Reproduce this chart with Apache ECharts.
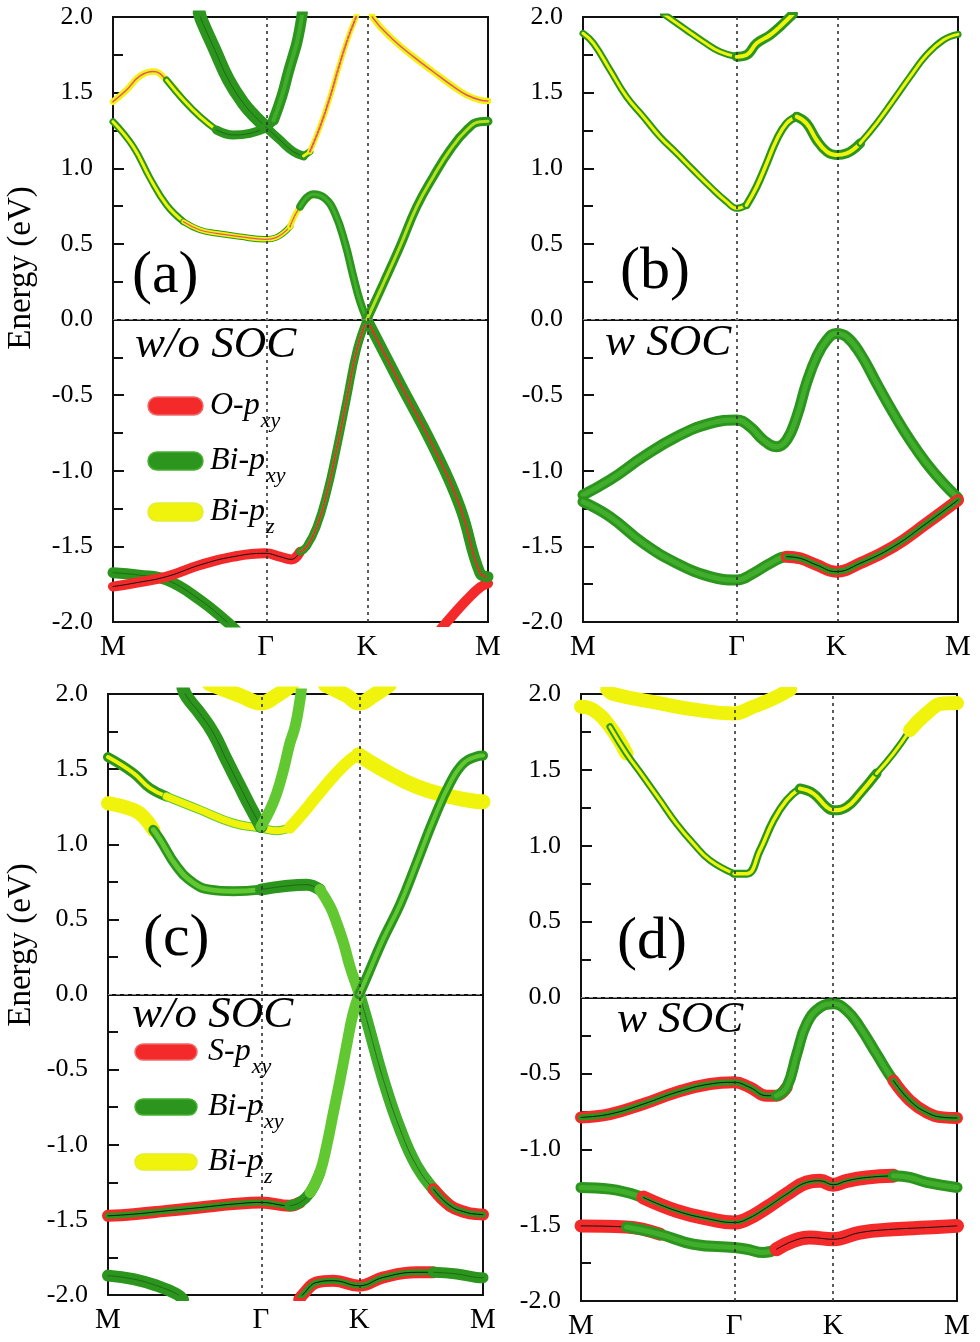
<!DOCTYPE html>
<html><head><meta charset="utf-8">
<script src="https://cdn.jsdelivr.net/npm/echarts@6.0.0/dist/echarts.min.js"></script>
<style>html,body{margin:0;padding:0;background:#fff}#c{width:980px;height:1342px}</style>
</head><body><div id="c"></div>
<script>
// ---------------- DATA ----------------
const kLabels = ['M', 'Γ', 'K', 'M'];
const kA = [0, 0.407, 0.677, 1];
const kB = [0, 0.410, 0.675, 1];
const kC = [0, 0.408, 0.670, 1];
const kD = [0, 0.407, 0.671, 1];
const yMin = -2.0, yMax = 2.0, yStep = 0.5;

// panel (a)  w/o SOC  (O-pxy / Bi-pxy / Bi-pz)
const a1 = [[0,1.308],[0.054,1.143],[0.099,0.933],[0.143,0.757],[0.188,0.647],[0.232,0.592],[0.276,0.570],[0.339,0.548],[0.407,0.530],[0.436,0.543],[0.472,0.614],[0.499,0.746],[0.534,0.828],[0.565,0.801],[0.592,0.702],[0.619,0.503],[0.641,0.283],[0.659,0.118],[0.677,0.0],[0.765,-0.422],[0.854,-0.841],[0.925,-1.237],[0.979,-1.678],[1,-1.70]];
const a2 = [[0,1.44],[0.036,1.517],[0.072,1.61],[0.108,1.639],[0.143,1.583],[0.188,1.451],[0.232,1.341],[0.276,1.253],[0.321,1.22],[0.365,1.231],[0.407,1.265],[0.428,1.318],[0.450,1.473],[0.468,1.639],[0.481,1.749],[0.490,1.826],[0.499,1.936],[0.505,2.03]];
const a3 = [[0.23,2.03],[0.236,1.98],[0.272,1.78],[0.308,1.584],[0.348,1.429],[0.379,1.341],[0.407,1.275],[0.445,1.187],[0.481,1.11],[0.508,1.081],[0.525,1.11],[0.552,1.274],[0.579,1.473],[0.605,1.693],[0.628,1.87],[0.645,1.98],[0.652,2.03]];
const a4 = [[0.69,2.03],[0.694,1.991],[0.748,1.848],[0.801,1.738],[0.854,1.638],[0.908,1.539],[0.943,1.484],[0.979,1.451],[1,1.445]];
const a6 = [[0,-1.766],[0.054,-1.744],[0.143,-1.70],[0.232,-1.623],[0.321,-1.568],[0.407,-1.546],[0.445,-1.568],[0.476,-1.586],[0.499,-1.535],[0.516,-1.503],[0.543,-1.370],[0.570,-1.149],[0.596,-0.863],[0.623,-0.532],[0.650,-0.202],[0.677,0.0],[0.721,0.238],[0.765,0.481],[0.810,0.746],[0.854,0.944],[0.899,1.121],[0.943,1.253],[0.979,1.308],[1,1.31]];
const a7 = [[0,-1.674],[0.070,-1.690],[0.143,-1.722],[0.232,-1.854],[0.303,-1.997],[0.33,-2.06]];
const a8 = [[0.87,-2.06],[0.890,-2.0],[0.943,-1.855],[0.979,-1.770],[1,-1.745]];

// panel (b)  w SOC
const b1 = [[0,1.892],[0.028,1.826],[0.072,1.650],[0.116,1.473],[0.161,1.341],[0.205,1.209],[0.250,1.099],[0.294,0.988],[0.339,0.878],[0.383,0.779],[0.410,0.735],[0.436,0.756],[0.463,0.878],[0.490,1.033],[0.516,1.187],[0.543,1.297],[0.570,1.341],[0.596,1.297],[0.623,1.187],[0.650,1.110],[0.675,1.088],[0.703,1.099],[0.739,1.165],[0.783,1.297],[0.828,1.451],[0.872,1.605],[0.916,1.749],[0.961,1.848],[1,1.885]];
const b2 = [[0.215,2.02],[0.276,1.914],[0.321,1.837],[0.365,1.771],[0.410,1.738],[0.436,1.749],[0.463,1.826],[0.499,1.881],[0.525,1.936],[0.552,2.0],[0.56,2.02]];
const b3 = [[0,-1.160],[0.072,-1.061],[0.161,-0.907],[0.250,-0.775],[0.339,-0.687],[0.410,-0.664],[0.445,-0.708],[0.481,-0.797],[0.516,-0.841],[0.543,-0.797],[0.570,-0.643],[0.596,-0.422],[0.623,-0.246],[0.650,-0.136],[0.675,-0.092],[0.703,-0.114],[0.739,-0.224],[0.783,-0.422],[0.828,-0.620],[0.872,-0.797],[0.916,-0.951],[0.961,-1.083],[1,-1.180]];
const b4 = [[0,-1.205],[0.072,-1.304],[0.161,-1.480],[0.250,-1.612],[0.339,-1.700],[0.410,-1.722],[0.454,-1.678],[0.499,-1.612],[0.543,-1.568],[0.579,-1.579],[0.623,-1.623],[0.675,-1.667],[0.739,-1.612],[0.828,-1.502],[0.916,-1.348],[1,-1.194]];

// panel (c)  w/o SOC  (S-pxy / Bi-pxy / Bi-pz)
const c1a = [[0.27,2.07],[0.352,1.99],[0.408,1.94],[0.45,1.99],[0.49,2.06]];
const c1b = [[0.58,2.06],[0.636,1.99],[0.670,1.94],[0.708,1.99],[0.75,2.06]];
const c2 = [[0,1.58],[0.068,1.473],[0.112,1.373],[0.156,1.318],[0.245,1.229],[0.334,1.141],[0.408,1.107],[0.450,1.09],[0.485,1.11],[0.512,1.185],[0.556,1.318],[0.601,1.451],[0.645,1.561],[0.668,1.595],[0.734,1.495],[0.823,1.384],[0.912,1.318],[0.983,1.285],[1,1.283]];
const c3 = [[0,1.273],[0.068,1.229],[0.094,1.185],[0.121,1.096],[0.139,1.030],[0.183,0.853],[0.228,0.742],[0.272,0.698],[0.334,0.687],[0.408,0.698],[0.468,0.72],[0.530,0.731],[0.565,0.698],[0.592,0.587],[0.610,0.476],[0.628,0.343],[0.645,0.188],[0.663,0.055],[0.670,0.0],[0.690,-0.17],[0.734,-0.565],[0.779,-0.897],[0.823,-1.141],[0.868,-1.296],[0.912,-1.406],[0.956,-1.451],[0.983,-1.462],[1,-1.465]];
const c4 = [[0,-1.473],[0.068,-1.462],[0.156,-1.44],[0.245,-1.418],[0.334,-1.395],[0.408,-1.384],[0.485,-1.406],[0.512,-1.384],[0.539,-1.318],[0.565,-1.185],[0.583,-1.008],[0.601,-0.786],[0.619,-0.565],[0.636,-0.343],[0.654,-0.122],[0.670,0.0],[0.690,0.115],[0.734,0.37],[0.779,0.60],[0.823,0.875],[0.868,1.163],[0.912,1.406],[0.948,1.539],[0.983,1.584],[1,1.59]];
const c5 = [[0.2,2.04],[0.210,1.982],[0.245,1.871],[0.281,1.739],[0.316,1.561],[0.352,1.384],[0.379,1.251],[0.408,1.118],[0.432,1.229],[0.450,1.34],[0.468,1.495],[0.485,1.672],[0.499,1.783],[0.512,1.96],[0.516,2.04]];
const c6 = [[0,-1.871],[0.068,-1.894],[0.130,-1.938],[0.183,-1.993],[0.2,-2.03]];
const c7 = [[0.51,-2.03],[0.521,-1.993],[0.557,-1.916],[0.601,-1.905],[0.670,-1.938],[0.734,-1.883],[0.823,-1.849],[0.868,-1.849],[0.93,-1.86],[0.983,-1.883],[1,-1.885]];

// panel (d)  w SOC
const d1 = [[0.07,2.03],[0.086,2.0],[0.210,1.938],[0.299,1.899],[0.407,1.872],[0.458,1.916],[0.512,1.971],[0.556,2.03]];
const d2 = [[0,1.916],[0.033,1.894],[0.077,1.784],[0.121,1.608],[0.166,1.454],[0.210,1.300],[0.254,1.146],[0.299,1.014],[0.343,0.904],[0.407,0.816],[0.441,0.816],[0.476,0.970],[0.512,1.168],[0.547,1.300],[0.582,1.377],[0.618,1.344],[0.653,1.256],[0.671,1.234],[0.707,1.256],[0.742,1.344],[0.786,1.476],[0.831,1.608],[0.875,1.762],[0.919,1.872],[0.964,1.938],[1,1.94]];
const d3 = [[0,-0.790],[0.077,-0.768],[0.166,-0.702],[0.254,-0.625],[0.343,-0.570],[0.407,-0.559],[0.449,-0.592],[0.494,-0.647],[0.520,-0.647],[0.547,-0.592],[0.574,-0.372],[0.600,-0.174],[0.636,-0.064],[0.671,-0.042],[0.707,-0.086],[0.742,-0.196],[0.786,-0.372],[0.831,-0.548],[0.875,-0.680],[0.919,-0.757],[0.964,-0.790],[1,-0.794]];
const d4 = [[0,-1.252],[0.077,-1.263],[0.166,-1.318],[0.254,-1.406],[0.343,-1.461],[0.407,-1.483],[0.441,-1.461],[0.494,-1.384],[0.547,-1.296],[0.600,-1.219],[0.636,-1.208],[0.671,-1.234],[0.707,-1.208],[0.760,-1.186],[0.831,-1.175],[0.875,-1.186],[0.919,-1.219],[1,-1.252]];
const d5 = [[0,-1.505],[0.121,-1.512],[0.210,-1.560],[0.299,-1.626],[0.407,-1.648],[0.441,-1.659],[0.485,-1.681],[0.520,-1.659],[0.565,-1.604],[0.609,-1.582],[0.671,-1.593],[0.742,-1.549],[0.831,-1.527],[0.919,-1.516],[1,-1.505]];

// legend / annotation texts
const legendA = [['O-p','xy','R'],['Bi-p','xy','G'],['Bi-p','z','Y']];
const legendC = [['S-p','xy','R'],['Bi-p','xy','G'],['Bi-p','z','Y']];

// ---------------- STYLE ----------------
const FONT = 'Liberation Serif';
const C = {G:'#2c951e', GD:'#1d6a13', LG:'#62c832', MG:'#40ad2b', Y:'#f0f30c', R:'#f42a2a', P:'#e8507a', K:'#111111'};
const P = {
  GY:   [[C.G,7],[C.Y,3]],
  GYc:  [[C.G,8],[C.Y,3.5]],
  GYt:  [[C.G,10],[C.Y,4]],
  YPg:  [[C.G,6.5],[C.Y,4.5],[C.P,1.2]],
  YP:   [[C.Y,6],[C.P,1.5,'dotted']],
  YPd:  [[C.Y,5.5],[C.P,2,'dotted']],
  YR:   [[C.Y,6.5],[C.P,1.5]],
  GT9:  [[C.G,9],[C.GD,1]],
  GT11: [[C.G,11],[C.GD,1]],
  GT13: [[C.G,13],[C.GD,1]],
  GC8:  [[C.G,8],[C.MG,3]],
  GC11: [[C.G,11],[C.MG,4]],
  GCr:  [[C.G,8],[C.MG,3],[C.R,2,'dotted']],
  GCy:  [[C.G,9],['#b6e21c',3]],
  GRd:  [[C.G,11],[C.R,2,'dotted']],
  RB:   [[C.R,10],[C.K,1]],
  RB13: [[C.R,13],[C.K,1]],
  RB14: [[C.R,14],[C.K,1]],
  R10:  [[C.R,10]],
  RGB:  [[C.R,12],[C.G,6],[C.K,1]],
  RGB2: [[C.R,14],[C.G,4],[C.K,1]],
  YT12: [[C.Y,12]],
  YT14: [[C.Y,14]],
  YT15: [[C.Y,15]],
  YG:   [[C.LG,9],[C.Y,7]],
  GLG:  [[C.G,10],[C.LG,5]],
  GT12: [[C.G,12],[C.GD,1]],
  LGC:  [[C.LG,11]],
  GLG12:[[C.MG,12],[C.GD,1,'dotted']],
  GCb:  [[C.G,11],[C.MG,5]],
  GCy2: [[C.G,10],[C.LG,4]]
};

const grids = [
  {left:113, top:17, width:375, height:605},
  {left:583, top:17, width:375, height:605},
  {left:108, top:694, width:375, height:601},
  {left:581, top:694, width:376, height:607}
];
const kPos = [kA, kB, kC, kD];

// bands: [gridIndex, data, segments [i0,i1,preset]]
const bands = [
  [0, a7, [[0,5,'GT11']]],
  [0, a8, [[0,4,'R10']]],
  [0, a4, [[0,8,'YR']]],
  [0, a2, [[0,5,'YR'],[4,7,'GY'],[7,10,'GT9'],[10,12,'GC8'],[11,17,'GC11']]],
  [0, a3, [[0,6,'GT13'],[6,9,'GT9'],[9,10,'GY'],[10,16,'YPd']]],
  [0, a1, [[0,4,'GY'],[4,10,'YPg'],[10,12,'YP'],[11,18,'GC8'],[18,23,'GRd']]],
  [0, a6, [[0,8,'RB'],[8,15,'GCr'],[15,23,'GCy']]],

  [1, b1, [[0,11,'GY'],[11,16,'GYc'],[16,22,'GYt'],[22,28,'GY']]],
  [1, b2, [[0,4,'GY'],[4,10,'GYt']]],
  [1, b3, [[0,22,'GCb']]],
  [1, b4, [[0,9,'GCb'],[8,15,'RGB']]],

  [2, c1a, [[0,4,'YT15']]],
  [2, c1b, [[0,4,'YT15']]],
  [2, c2, [[0,3,'GYt'],[3,8,'YG'],[8,13,'YT12'],[13,18,'YT15']]],
  [2, c6, [[0,4,'GT12']]],
  [2, c7, [[0,7,'RGB'],[7,10,'GT11']]],
  [2, c3, [[0,3,'YT14'],[3,9,'GLG'],[9,12,'GT12'],[12,18,'LGC'],[18,24,'GLG12'],[23,27,'RGB']]],
  [2, c4, [[0,7,'RGB'],[6,9,'GT11'],[8,15,'LGC'],[15,24,'GCy2']]],
  [2, c5, [[0,7,'GT13'],[7,14,'LGC']]],

  [3, d1, [[0,7,'YT14']]],
  [3, d2, [[0,3,'YT14'],[2,9,'GY'],[9,14,'GYc'],[14,20,'GYt'],[20,22,'GY'],[22,25,'YT14']]],
  [3, d3, [[0,9,'RGB'],[8,18,'GCb'],[17,21,'RGB']]],
  [3, d4, [[0,3,'GCb'],[2,14,'RGB2'],[14,17,'GCb']]],
  [3, d5, [[0,2,'RB13'],[1,7,'GCb'],[7,14,'RB14']]]
];

// ---------------- BUILD ----------------
const series = [];
bands.forEach(([g, pts, segs]) => {
  segs.forEach(([i0, i1, pre]) => {
    const d = pts.slice(i0, i1 + 1);
    P[pre].forEach(([color, width, type]) => {
      series.push({
        type:'line', xAxisIndex:g, yAxisIndex:g, data:d, smooth:0.45,
        symbol:'none', silent:true, animation:false, clip:true,
        lineStyle:{color:color, width:width, type:type||'solid', cap:'round', join:'round'}
      });
    });
  });
});
// reference lines at Γ, K and E=0
kPos.forEach((kp, g) => {
  series.push({
    type:'line', xAxisIndex:g, yAxisIndex:g, data:[], symbol:'none', silent:true, animation:false,
    markLine:{
      silent:true, symbol:['none','none'], label:{show:false}, animation:false,
      data:[
        {xAxis:kp[1], lineStyle:{color:'#333', width:1.6, type:[3,4]}},
        {xAxis:kp[2], lineStyle:{color:'#333', width:1.6, type:[3,4]}},
        {yAxis:0, lineStyle:{color:'#888', width:1, type:[4,4]}}
      ]
    }
  });
});

const xAxes = grids.map((g, i) => ({
  gridIndex:i, type:'value', min:0, max:1,
  axisLine:{show:true, lineStyle:{color:'#111', width:2}},
  axisTick:{show:false}, splitLine:{show:false},
  axisLabel:{
    customValues:kPos[i], fontFamily:FONT, fontSize:29, color:'#000', margin:11,
    formatter:(v) => { const idx = kPos[i].findIndex(p => Math.abs(p - v) < 1e-6); return idx >= 0 ? kLabels[idx] : ''; }
  }
}));
const yAxes = grids.map((g, i) => ({
  gridIndex:i, type:'value', min:yMin, max:yMax, interval:yStep,
  axisLine:{show:true, lineStyle:{color:'#111', width:2}},
  axisTick:{show:true, inside:true, length:11, lineStyle:{color:'#111', width:2}},
  minorTick:{show:true, splitNumber:2, length:10, lineStyle:{color:'#111', width:2}},
  splitLine:{show:false},
  axisLabel:{fontFamily:FONT, fontSize:26, color:'#000', margin:20, formatter:(v) => v.toFixed(1)}
}));

// text helpers
const mctx = document.createElement('canvas').getContext('2d');
function tw(t, size, italic) { mctx.font = (italic ? 'italic ' : '') + size + 'px "' + FONT + '"'; return mctx.measureText(t).width; }
function txt(x, y, t, size, italic, extra) {
  return Object.assign({type:'text', x:x, y:y, z:100, silent:true,
    style:{text:t, fontFamily:FONT, fontSize:size, fontStyle:italic ? 'italic' : 'normal', fill:'#000',
      align:'left', verticalAlign:'middle', textAlign:'left', textVerticalAlign:'middle'}}, extra || {});
}
const graphics = [];
graphics.push(txt(132, 276, '(a)', 60, false));
graphics.push(txt(620, 272, '(b)', 60, false));
graphics.push(txt(143, 939, '(c)', 60, false));
graphics.push(txt(617, 942, '(d)', 60, false));
graphics.push(txt(135, 345, 'w/o SOC', 45, true));
graphics.push(txt(605, 343, 'w SOC', 45, true));
graphics.push(txt(132, 1015, 'w/o SOC', 45, true));
graphics.push(txt(617, 1020, 'w SOC', 45, true));
[[21, 268], [21, 945]].forEach(([x, y]) => {
  graphics.push({type:'text', x:x, y:y, rotation:Math.PI / 2, z:100, silent:true,
    style:{text:'Energy (eV)', fontFamily:FONT, fontSize:33, fill:'#000', align:'center', verticalAlign:'middle', textAlign:'center', textVerticalAlign:'middle'}});
});
function legend(items, px, pw, ph, cys, tx) {
  items.forEach(([main, sub, col], i) => {
    const cy = cys[i];
    graphics.push({type:'rect', z:90, silent:true, shape:{x:px, y:cy - ph / 2, width:pw, height:ph, r:ph / 2},
      style:{fill:C[col], stroke:col === 'Y' ? '#e2ee30' : (col === 'R' ? '#f06a6a' : '#46b030'), lineWidth:1.5}});
    graphics.push(txt(tx, cy, main, 32, true));
    graphics.push(txt(tx + tw(main, 32, true) + 1, cy + 15, sub, 22, true));
  });
}
legend(legendA, 148, 55, 18, [406, 461, 512], 210);
legend(legendC, 135, 62, 16, [1052, 1107, 1162], 208);

const chart = echarts.init(document.getElementById('c'), null, {renderer:'canvas'});
chart.setOption({
  animation:false,
  backgroundColor:'#ffffff',
  grid: grids.map(g => Object.assign({show:true, borderColor:'#111', borderWidth:2, backgroundColor:'transparent'}, g)),
  xAxis: xAxes,
  yAxis: yAxes,
  series: series,
  graphic: graphics
});
</script></body></html>
